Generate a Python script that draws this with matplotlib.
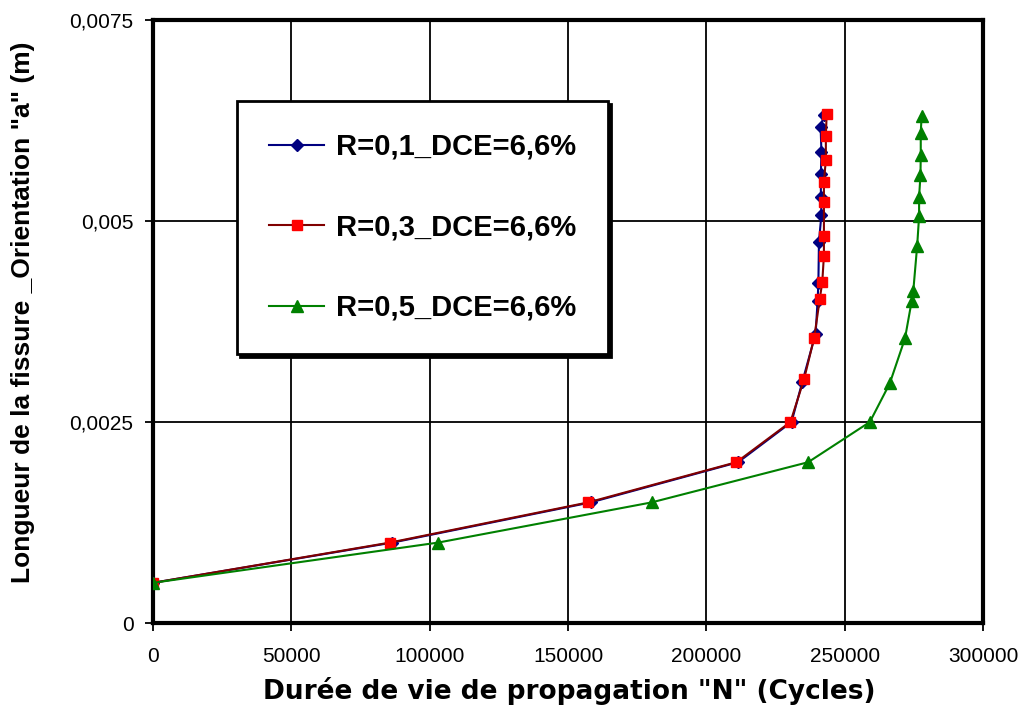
import matplotlib.pyplot as plt
from matplotlib.ticker import FuncFormatter

# Données
a_r01 = [0.0005, 0.001, 0.0015, 0.002, 0.0025, 0.0030, 0.0036, 0.0040, 0.00423,
         0.00474, 0.00508, 0.0053, 0.00559, 0.00586, 0.00617, 0.00632]
n_r01 = [0, 86500, 158200, 211500, 230800, 234700, 239500, 240200, 240500,
         240700, 241600, 241400, 241400, 241600, 241300, 242500]

a_r03 = [0.0005, 0.001, 0.0015, 0.002, 0.0025, 0.00303, 0.00355, 0.00403, 0.00424,
         0.00457, 0.00481, 0.00523, 0.00549, 0.00576, 0.00606, 0.00633]
n_r03 = [0, 85600, 157300, 210900, 230400, 235300, 239000, 241000, 241900,
         242500, 242500, 242500, 242500, 243200, 243200, 243500]

a_r05 = [0.0005, 0.001, 0.0015, 0.002, 0.0025, 0.00298, 0.00354, 0.004, 0.00413,
         0.00469, 0.00506, 0.0053, 0.00557, 0.00582, 0.0061, 0.0063]
n_r05 = [0, 103000, 180200, 236800, 259100, 266300, 271800, 274200, 274800,
         276200, 276900, 276900, 277400, 277500, 277500, 277800]

labels = ["R=0,1_DCE=6,6%", "R=0,3_DCE=6,6%", "R=0,5_DCE=6,6%"]

fig = plt.figure(figsize=(10.29, 7.13), dpi=100)
ax = fig.add_axes([0.1487, 0.1262, 0.8066, 0.8458])

ax.plot(n_r01, a_r01, color='#000080', lw=1.5, marker='D', ms=6.5,
        mfc='#000080', mec='#000080', label=labels[0], zorder=3)
ax.plot(n_r03, a_r03, color='#800000', lw=1.5, marker='s', ms=7.5,
        mfc='#ff0000', mec='#ff0000', label=labels[1], zorder=4)
ax.plot(n_r05, a_r05, color='#008000', lw=1.5, marker='^', ms=9,
        mfc='#008000', mec='#008000', label=labels[2], zorder=5)

ax.set_xlim(0, 300000)
ax.set_ylim(0, 0.0075)
ax.set_xticks(range(0, 300001, 50000))
ax.set_yticks([0, 0.0025, 0.005, 0.0075])
ax.yaxis.set_major_formatter(FuncFormatter(lambda v, p: "0" if v == 0 else f"{v:g}".replace(".", ",")))
ax.grid(True, color='black', lw=1.3)
ax.set_axisbelow(True)

for s in ax.spines.values():
    s.set_linewidth(3)
ax.tick_params(direction='out', length=6, width=1.3, labelsize=15)
ax.tick_params(axis='x', pad=11)
ax.tick_params(axis='y', pad=8)

ax.set_xlabel('Durée de vie de propagation "N" (Cycles)', fontsize=19,
              fontweight='bold', family='DejaVu Sans')
ax.xaxis.set_label_coords(0.501, -0.09)
ax.set_ylabel('Longueur de la fissure _Orientation "a" (m)', fontsize=19,
              fontweight='bold', family='Liberation Sans')
ax.yaxis.set_label_coords(-0.142, 0.515)
for lab in ax.get_xticklabels() + ax.get_yticklabels():
    lab.set_family('Liberation Sans')

leg = ax.legend(loc='upper left', bbox_to_anchor=(0.101, 0.866), borderaxespad=0,
                prop={'family': 'Liberation Sans', 'weight': 'bold', 'size': 21},
                handlelength=1.9, handletextpad=0.4, labelspacing=1.8, borderpad=1.1,
                fancybox=False, edgecolor='black', framealpha=1,
                shadow={'color': 'black', 'alpha': 1})
leg.get_frame().set_linewidth(2)

plt.savefig("out.png", dpi=100)
